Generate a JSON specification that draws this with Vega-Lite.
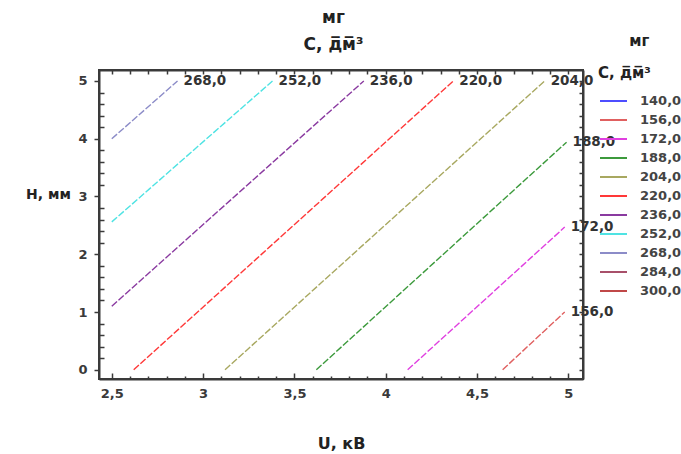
{
  "$schema": "https://vega.github.io/schema/vega-lite/v6.json",
  "width": 484,
  "height": 309,
  "autosize": {"type": "none"},
  "padding": {"left": 99, "top": 70, "right": 98, "bottom": 75},
  "background": "white",
  "config": {
    "font": "DejaVu Sans",
    "locale": {"number": {"decimal": ",", "thousands": "\u00a0", "grouping": [3], "currency": ["", ""]}},
    "view": {"stroke": "#3a3a3a", "strokeWidth": 2},
    "axis": {
      "grid": false,
      "domainColor": "#3a3a3a",
      "domainWidth": 2,
      "tickColor": "#3a3a3a",
      "tickWidth": 1.5,
      "labelFont": "DejaVu Sans",
      "labelFontSize": 13,
      "labelFontWeight": "bold",
      "labelColor": "#3a3a3a",
      "titleFont": "DejaVu Sans",
      "titleFontWeight": "bold",
      "titleColor": "#222222"
    }
  },
  "datasets": {
    "contours": [
      {"level": "268,0", "U": 2.5, "H": 4.0},
      {"level": "268,0", "U": 2.86, "H": 5.0},
      {"level": "252,0", "U": 2.5, "H": 2.56},
      {"level": "252,0", "U": 3.38, "H": 5.0},
      {"level": "236,0", "U": 2.5, "H": 1.1},
      {"level": "236,0", "U": 3.88, "H": 5.0},
      {"level": "220,0", "U": 2.62, "H": 0.0},
      {"level": "220,0", "U": 4.37, "H": 5.0},
      {"level": "204,0", "U": 3.12, "H": 0.0},
      {"level": "204,0", "U": 4.87, "H": 5.0},
      {"level": "188,0", "U": 3.62, "H": 0.0},
      {"level": "188,0", "U": 4.99, "H": 3.94},
      {"level": "172,0", "U": 4.12, "H": 0.0},
      {"level": "172,0", "U": 4.98, "H": 2.47},
      {"level": "156,0", "U": 4.64, "H": 0.0},
      {"level": "156,0", "U": 4.98, "H": 1.0}
    ]
  },
  "data": {"name": "contours"},
  "layer": [
    {
      "mark": {"type": "line", "strokeWidth": 1.4, "strokeDash": [7, 2]},
      "encoding": {
        "x": {
          "field": "U",
          "type": "quantitative",
          "scale": {"domain": [2.43, 5.08], "nice": false, "zero": false},
          "axis": {
            "orient": "bottom",
            "values": [2.5, 2.6, 2.7, 2.8, 2.9, 3, 3.1, 3.2, 3.3, 3.4, 3.5, 3.6, 3.7, 3.8, 3.9, 4, 4.1, 4.2, 4.3, 4.4, 4.5, 4.6, 4.7, 4.8, 4.9, 5],
            "format": ".1~f",
            "labelExpr": "abs(datum.value*2-round(datum.value*2))<0.001 ? datum.label : ''",
            "tickSize": {"condition": {"test": "abs(datum.value*2-round(datum.value*2))<0.001", "value": -6}, "value": -3},
            "labelPadding": 14,
            "title": "U, кВ",
            "titleFontSize": 16,
            "titleY": 64,
            "titleBaseline": "middle"
          }
        },
        "y": {
          "field": "H",
          "type": "quantitative",
          "scale": {"domain": [-0.16, 5.19], "nice": false, "zero": false},
          "axis": {
            "orient": "left",
            "values": [0, 0.2, 0.4, 0.6, 0.8, 1, 1.2, 1.4, 1.6, 1.8, 2, 2.2, 2.4, 2.6, 2.8, 3, 3.2, 3.4, 3.6, 3.8, 4, 4.2, 4.4, 4.6, 4.8, 5],
            "format": ".1~f",
            "labelExpr": "abs(datum.value-round(datum.value))<0.001 ? datum.label : ''",
            "tickSize": {"condition": {"test": "abs(datum.value-round(datum.value))<0.001", "value": 5}, "value": -5},
            "labelPadding": 7,
            "title": "H, мм",
            "titleFontSize": 14,
            "titleAngle": 0,
            "titleAlign": "center",
            "titleBaseline": "middle",
            "titleX": -51,
            "titleY": 124
          }
        },
        "color": {
          "field": "level",
          "type": "nominal",
          "scale": {
            "domain": ["140,0", "156,0", "172,0", "188,0", "204,0", "220,0", "236,0", "252,0", "268,0", "284,0", "300,0"],
            "range": ["#4d4dff", "#e06060", "#e040e0", "#3c9a3c", "#a8a860", "#ff3838", "#8a3aa0", "#4fe3e3", "#8c8cc8", "#a8506a", "#c04848"]
          },
          "legend": {
            "orient": "none",
            "legendX": 499,
            "legendY": -36,
            "padding": 0,
            "title": ["\u200b\u00a0\u00a0\u00a0\u00a0\u00a0\u00a0мг", "C, д\u0305м\u0305³"],
            "titleFontSize": 15,
            "titleFontWeight": "bold",
            "titleColor": "#222222",
            "titleLineHeight": 32,
            "titlePadding": 13,
            "symbolType": "M-0.83,0H3.67",
            "symbolStrokeWidth": 2,
            "symbolSize": 144,
            "symbolDash": [100, 0],
            "labelFontSize": 13,
            "labelFontWeight": "bold",
            "labelColor": "#444444",
            "labelOffset": 28,
            "rowPadding": 5
          }
        }
      }
    },
    {
      "mark": {"type": "text", "align": "left", "baseline": "middle", "dx": 6, "fontSize": 13.5, "fontWeight": "bold", "color": "#333333"},
      "encoding": {
        "x": {
          "aggregate": "max",
          "field": "U",
          "type": "quantitative",
          "axis": {
            "orient": "top",
            "values": [2.5, 2.6, 2.7, 2.8, 2.9, 3, 3.1, 3.2, 3.3, 3.4, 3.5, 3.6, 3.7, 3.8, 3.9, 4, 4.1, 4.2, 4.3, 4.4, 4.5, 4.6, 4.7, 4.8, 4.9, 5],
            "labels": false,
            "tickSize": -4,
            "title": ["мг", "C, д\u0305м\u0305³"],
            "titleFontSize": 17,
            "titleLineHeight": 27,
            "titleAlign": "center",
            "titleBaseline": "top",
            "titleX": 234,
            "titleY": -61
          }
        },
        "y": {
          "aggregate": "max",
          "field": "H",
          "type": "quantitative",
          "axis": {
            "orient": "right",
            "values": [0, 0.2, 0.4, 0.6, 0.8, 1, 1.2, 1.4, 1.6, 1.8, 2, 2.2, 2.4, 2.6, 2.8, 3, 3.2, 3.4, 3.6, 3.8, 4, 4.2, 4.4, 4.6, 4.8, 5],
            "labels": false,
            "tickSize": -4,
            "title": null
          }
        },
        "text": {"field": "level"}
      }
    }
  ],
  "resolve": {"axis": {"x": "independent", "y": "independent"}}
}
